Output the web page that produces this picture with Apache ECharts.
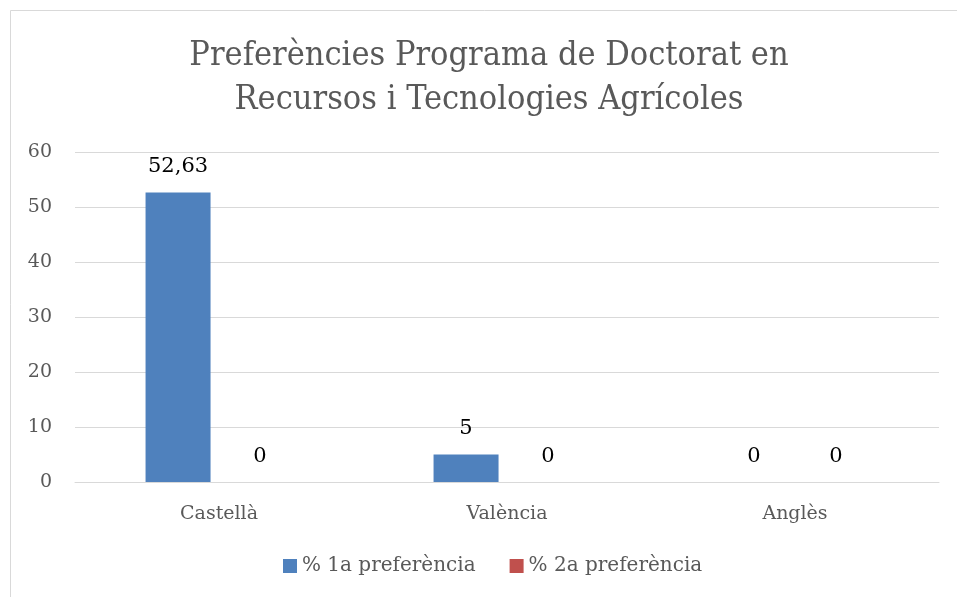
<!DOCTYPE html>
<html>
<head>
<meta charset="utf-8">
<script src="https://cdn.jsdelivr.net/npm/echarts@6/dist/echarts.min.js"></script>
<style>
html,body{margin:0;padding:0;background:#fff;}
#chart{width:957px;height:597px;}
</style>
</head>
<body>
<div id="chart"></div>
<script>
const titleText = "Preferències Programa de Doctorat en\nRecursos i Tecnologies Agrícoles";
const categories = ["Castellà", "València", "Anglès"];
const seriesNames = ["% 1a preferència", "% 2a preferència"];
const pref1 = [52.63, 5, 0];
const pref2 = [0, 0, 0];
const yTicks = { min: 0, max: 60, interval: 10 };

const FONT = "'DejaVu Serif', 'Liberation Serif', serif";
const TFONT = "'DejaVu Serif Condensed', 'DejaVu Serif', serif";
const chart = echarts.init(document.getElementById('chart'), null, { renderer: 'canvas' });

const fmt = p => String(p.value).replace('.', ',');

chart.setOption({
  animation: false,
  backgroundColor: '#ffffff',
  textStyle: { fontFamily: FONT },
  graphic: [{
    type: 'rect',
    shape: { x: 10.5, y: 10.5, width: 1000, height: 1000 },
    style: { fill: 'none', stroke: '#d9d9d9', lineWidth: 1 },
    silent: true, z: -1
  }],
  title: {
    text: titleText,
    left: 484,
    textAlign: 'center',
    top: 29,
    textStyle: { fontFamily: TFONT, fontSize: 34, fontWeight: 'normal', color: '#595959', lineHeight: 44 }
  },
  legend: {
    bottom: 16,
    left: 278,
    itemWidth: 14, itemHeight: 14, itemGap: 34,
    icon: 'rect',
    textStyle: { fontFamily: FONT, fontSize: 20, color: '#595959' },
    data: seriesNames
  },
  grid: { left: 75, right: 18, top: 152, bottom: 115, containLabel: false },
  xAxis: {
    type: 'category',
    data: categories,
    axisLine: { lineStyle: { color: '#d9d9d9', width: 1 } },
    axisTick: { show: false },
    axisLabel: { fontFamily: FONT, fontSize: 19, color: '#595959', margin: 23 }
  },
  yAxis: {
    type: 'value',
    min: yTicks.min, max: yTicks.max, interval: yTicks.interval,
    axisLine: { show: false },
    axisTick: { show: false },
    splitLine: { lineStyle: { color: '#d9d9d9', width: 1 } },
    axisLabel: { fontFamily: FONT, fontSize: 19, color: '#595959', margin: 23 }
  },
  series: [
    {
      name: seriesNames[0], type: 'bar', data: pref1,
      barWidth: 65, barGap: '26%',
      itemStyle: { color: '#4f81bd' },
      label: { show: true, position: 'top', distance: 15, formatter: fmt, fontFamily: FONT, fontSize: 21, color: '#000' }
    },
    {
      name: seriesNames[1], type: 'bar', data: pref2,
      barWidth: 65,
      itemStyle: { color: '#c0504d' },
      label: { show: true, position: 'top', distance: 15, formatter: fmt, fontFamily: FONT, fontSize: 21, color: '#000' }
    }
  ]
});
</script>
</body>
</html>
